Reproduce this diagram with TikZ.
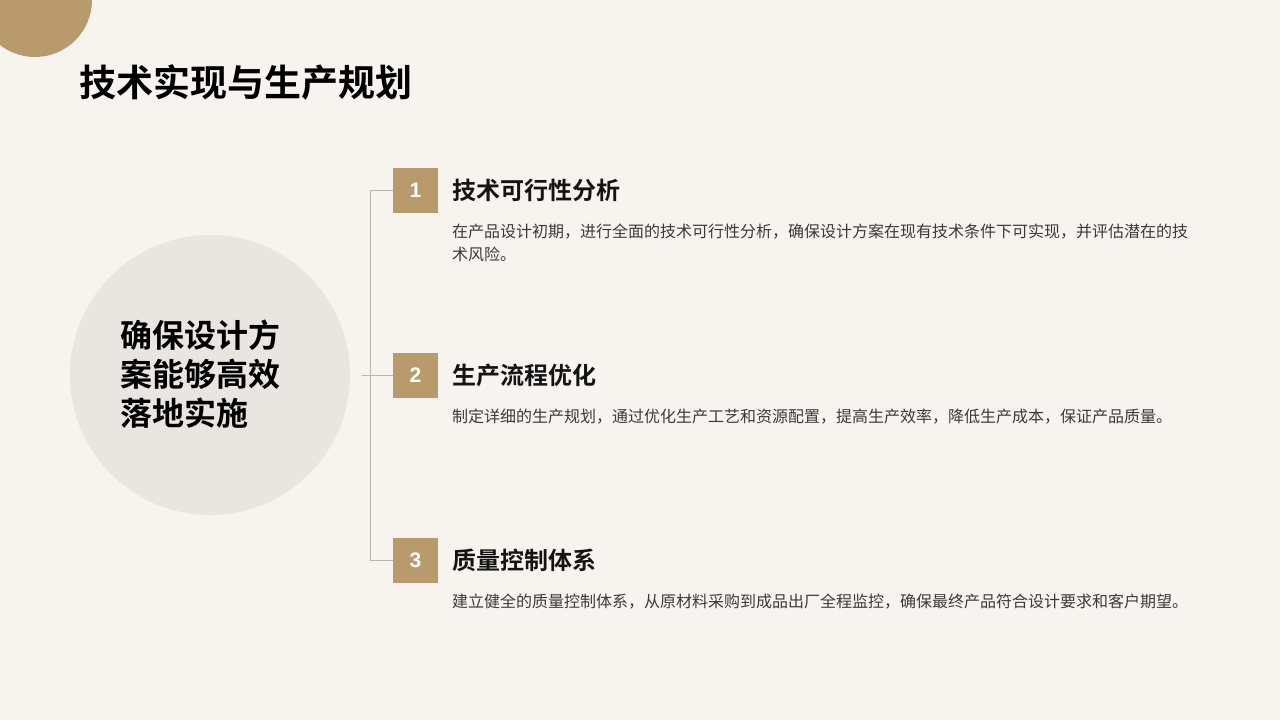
\documentclass[tikz,border=0pt]{standalone}
\usepackage{fontspec}
\setmainfont{Noto Sans CJK SC}
\newfontfamily\cjkbold{Noto Sans CJK SC Bold}
\newfontfamily\numfont{Liberation Sans}
\usepackage{tikz}
\usetikzlibrary{positioning}

\definecolor{pageBg}{HTML}{F7F4EF}
\definecolor{goldTone}{HTML}{B99A6D}
\definecolor{hubFill}{HTML}{E9E6E1}
\definecolor{railGray}{HTML}{BDB6AC}
\definecolor{bodyText}{HTML}{3A3A3A}

\begin{document}
\begin{tikzpicture}[x=1pt,y=-1pt,
		numBox/.style={fill=goldTone, minimum size=45pt, inner sep=0pt, text=white, font=\numfont\bfseries\fontsize{21}{21}\selectfont},
		stepTitle/.style={anchor=west, inner sep=0pt, text=black!92, font=\cjkbold\fontsize{24}{24}\selectfont},
		stepText/.style={anchor=north west, inner sep=0pt, align=left, text=bodyText, font=\fontsize{16}{23}\selectfont},
		rail/.style={draw=railGray, line width=0.9pt}]

		% Page background and bounding box.
		\fill[pageBg, use as bounding box] (0,0) rectangle (1280,720);

		% Corner decoration and title.
		\fill[goldTone] (35,0) circle (57);
		\node[anchor=west, inner sep=0pt, text=black, font=\cjkbold\fontsize{37}{37}\selectfont] (title) at (79,82) {技术实现与生产规划};

		% Hub circle with the main statement.
		\node[circle, fill=hubFill, minimum size=280pt, inner sep=0pt] (hub) at (210,375) {};
		\node[anchor=west, inner sep=0pt, align=left, text=black, font=\cjkbold\fontsize{32}{39}\selectfont] (hubText) at (120,374) {确保设计方\\案能够高效\\落地实施};

		% Define the macro.
		% 1st argument: Step number (also used in the node names).
		% 2nd argument: Y position of the step row.
		% 3rd argument: Step title.
		% 4th argument: Step description.
		\newcommand{\planStep}[4]{
			\node[numBox] (box#1) at (415.5,#2) {#1};
			\node[stepTitle] (title#1) at (452,#2) {#3};
			\node[stepText] (text#1) at (452,#2+34) {#4};
		}

		\planStep{1}{190}{技术可行性分析}{在产品设计初期，进行全面的技术可行性分析，确保设计方案在现有技术条件下可实现，并评估潜在的技\\术风险。}
		\planStep{2}{375}{生产流程优化}{制定详细的生产规划，通过优化生产工艺和资源配置，提高生产效率，降低生产成本，保证产品质量。}
		\planStep{3}{560}{质量控制体系}{建立健全的质量控制体系，从原材料采购到成品出厂全程监控，确保最终产品符合设计要求和客户期望。}

		% Rail joining the steps.
		\coordinate (railTop) at (370,190);
		\coordinate (railBottom) at (370,560);
		\coordinate (hubTap) at (362,375);
		\draw[rail] (box1.west) -- (railTop) -- (railBottom) -- (box3.west);
		\draw[rail] (hubTap) -- (box2.west);

	\end{tikzpicture}
\end{document}
